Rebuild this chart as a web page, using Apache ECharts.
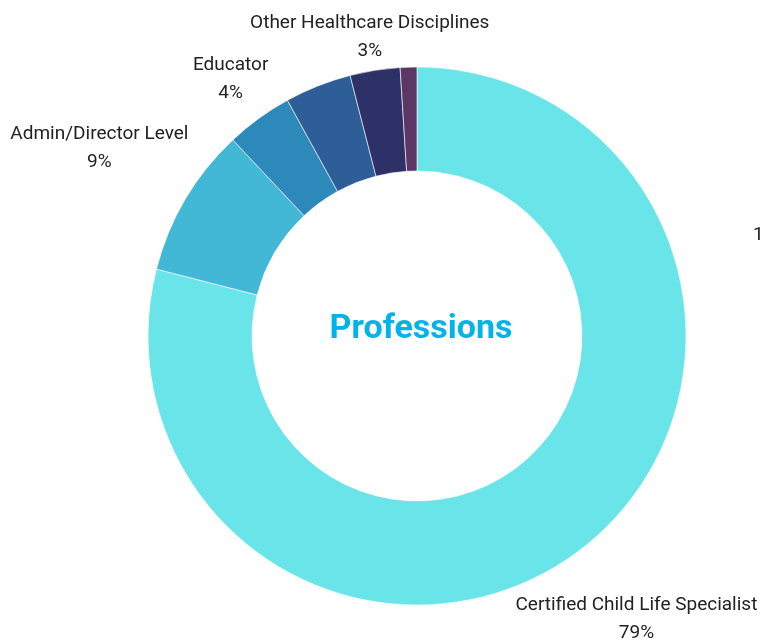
<!DOCTYPE html>
<html>
<head>
<meta charset="utf-8">
<script src="https://cdn.jsdelivr.net/npm/echarts@6/dist/echarts.min.js"></script>
<style>
  html, body { margin: 0; padding: 0; background: #fff; }
  #main { width: 761px; height: 643px; }
</style>
</head>
<body>
<div id="main"></div>
<script>
  // slice order: clockwise from 12 o'clock
  var categories = ['Certified Child Life Specialist', 'Admin/Director Level', 'Educator',
                    'Child Life Student', 'Other Healthcare Disciplines', 'Other'];
  var values = [79, 9, 4, 4, 3, 1];
  var colors = ['#69E4E8', '#42B7D6', '#2C89B9', '#2E5E97', '#2E3168', '#5C3766'];
  var showLabel = [true, true, true, false, true, false];
  // distance of each label centre from the pie centre
  var labelDist = [358, 369, 317, 0, 302, 0];

  var cx = 417, cy = 336;
  var total = values.reduce(function (a, b) { return a + b; }, 0);
  var midAngle = [];
  var acc = 0;
  values.forEach(function (v) {
    midAngle.push((acc + v / 2) / total * Math.PI * 2);
    acc += v;
  });

  var chart = echarts.init(document.getElementById('main'));
  chart.setOption({
    animation: false,
    color: colors,
    graphic: [
      {
        type: 'text',
        style: {
          text: 'Professions', x: cx + 4, y: cy - 7, align: 'center', verticalAlign: 'middle',
          fill: '#00B3E8', font: 'bold 34px Roboto'
        }
      },
      {
        type: 'text',
        style: { text: '1', x: 753, y: 235, verticalAlign: 'middle', fill: '#222', font: '19px Roboto' }
      }
    ],
    series: [{
      type: 'pie',
      center: [cx, cy],
      radius: [165, 269],
      startAngle: 90,
      clockwise: true,
      itemStyle: { borderColor: '#ffffff', borderWidth: 0.6 },
      label: {
        show: true,
        position: 'outside',
        formatter: function (p) { return p.name + '\n' + values[p.dataIndex] + '%'; },
        color: '#222',
        fontFamily: 'Roboto',
        fontSize: 19,
        lineHeight: 28,
        overflow: 'none',
        width: 400,
        align: 'center'
      },
      labelLine: { show: false },
      labelLayout: function (p) {
        var i = p.dataIndex;
        var a = midAngle[i], r = labelDist[i];
        return {
          x: cx + r * Math.sin(a),
          y: cy - r * Math.cos(a),
          align: 'center',
          verticalAlign: 'middle',
          hideOverlap: false
        };
      },
      emphasis: { disabled: true },
      data: categories.map(function (c, i) {
        return { name: c, value: values[i], label: { show: showLabel[i] } };
      })
    }]
  });
</script>
</body>
</html>
